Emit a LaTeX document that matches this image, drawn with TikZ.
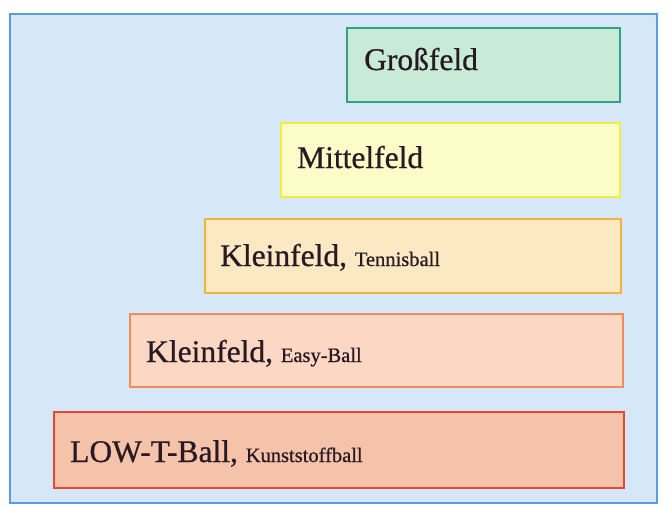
\documentclass[tikz,border=0pt]{standalone}
\usepackage{fontspec}
\setmainfont{Liberation Serif}[FakeBold=0.7]
\newfontfamily\heavyfont{Liberation Serif}[FakeBold=0.7]
\definecolor{bgblue}{RGB}{214,232,248}
\definecolor{frameblue}{RGB}{90,155,230}
\definecolor{txt}{RGB}{40,25,35}
\definecolor{gfill}{RGB}{200,235,215}
\definecolor{gdraw}{RGB}{50,160,130}
\definecolor{mfill}{RGB}{252,252,200}
\definecolor{mdraw}{RGB}{240,238,60}
\definecolor{tfill}{RGB}{252,232,195}
\definecolor{tdraw}{RGB}{240,180,60}
\definecolor{efill}{RGB}{252,215,195}
\definecolor{edraw}{RGB}{240,140,90}
\definecolor{lfill}{RGB}{245,195,170}
\definecolor{ldraw}{RGB}{230,70,50}
\tikzset{
  fieldbox/.style={draw=#1, line width=2pt, inner sep=0pt, rectangle},
  lbl/.style={anchor=base west, inner sep=0pt, text=txt, font=\heavyfont\fontsize{31.5}{34}\selectfont}
}
\newcommand{\smalltxt}[1]{{\fontsize{20.5}{24}\selectfont #1}}
\begin{document}
\begin{tikzpicture}[x=1pt,y=-1pt]
\useasboundingbox (0,0) rectangle (666,506);
\fill[white] (0,0) rectangle (666,506);
\node[draw=frameblue, fill=bgblue, line width=2pt, inner sep=0pt, minimum width=647pt, minimum height=489pt] (frame) at (333.5,258.5) {};
% boxes
\node[fieldbox=gdraw, fill=gfill, minimum width=273pt, minimum height=74pt] (g) at (483.5,65) {};
\node[fieldbox=mdraw, fill=mfill, minimum width=339pt, minimum height=74pt] (m) at (450.5,160) {};
\node[fieldbox=tdraw, fill=tfill, minimum width=416pt, minimum height=74pt] (t) at (413,256) {};
\node[fieldbox=edraw, fill=efill, minimum width=493pt, minimum height=73pt] (e) at (376.5,350.5) {};
\node[fieldbox=ldraw, fill=lfill, minimum width=570pt, minimum height=76pt] (l) at (339,450) {};
% labels
\node[lbl] (gl) at (364,70) {Großfeld};
\node[lbl] (ml) at (297,168) {Mittelfeld};
\node[lbl] (tl) at (220,266) {Kleinfeld, \smalltxt{Tennisball}};
\node[lbl] (el) at (146,362) {Kleinfeld, \smalltxt{Easy-Ball}};
\node[lbl] (ll) at (70,462) {LOW-T-Ball, \smalltxt{Kunststoffball}};
\end{tikzpicture}
\end{document}
